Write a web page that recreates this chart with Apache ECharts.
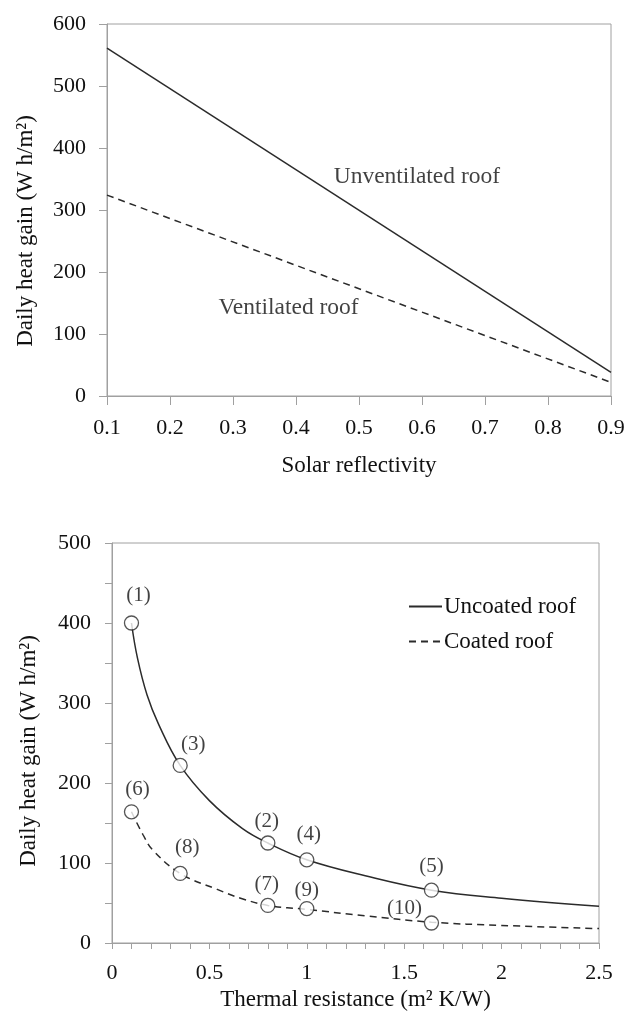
<!DOCTYPE html>
<html>
<head>
  <meta charset="UTF-8">
  <title>Daily heat gain</title>
  <script src="https://cdn.jsdelivr.net/npm/echarts@6/dist/echarts.min.js"></script>
  <style>
    html, body { margin: 0; padding: 0; background: #fff; }
    #main { width: 628px; height: 1012px; }
  </style>
</head>
<body>
  <div id="main"></div>
  <script>
    // top chart: heat gain vs solar reflectivity
    const reflectivity = [0.1, 0.9];
    const unventilated = [561, 38];
    const ventilated = [324, 22];
    const topNotes = [
      { text: 'Unventilated roof', x: 0.459, y: 353 },
      { text: 'Ventilated roof', x: 0.276, y: 143 }
    ];

    // bottom chart: heat gain vs thermal resistance (curves)
    const uncoatedCurveX = [0.1, 0.13, 0.18, 0.24, 0.35, 0.5, 0.67, 0.8, 1.0, 1.3, 1.64, 2.0, 2.5];
    const uncoatedCurveY = [400, 357, 310, 273, 222, 178, 143, 125, 104, 84, 66, 56, 46];
    const coatedCurveX = [0.1, 0.16, 0.21, 0.35, 0.54, 0.66, 0.8, 1.0, 1.3, 1.64, 2.0, 2.5];
    const coatedCurveY = [164, 135, 116, 87, 67, 56, 47, 42, 34, 26, 22, 18];

    // measured cases
    const uncoatedX = [0.1, 0.35, 0.8, 1.0, 1.64];
    const uncoatedY = [400, 222, 125, 104, 66];
    const uncoatedTags = ['(1)', '(3)', '(2)', '(4)', '(5)'];
    const coatedX = [0.1, 0.35, 0.8, 1.0, 1.64];
    const coatedY = [164, 87, 47, 43, 25];
    const coatedTags = ['(6)', '(8)', '(7)', '(9)', '(10)'];

    // where each case tag sits relative to its circle (px)
    const tagOffset = {
      '(1)': [7, -28], '(3)': [13, -21], '(2)': [-1, -22], '(4)': [2, -25], '(5)': [0, -24],
      '(6)': [6, -22], '(8)': [7, -26], '(7)': [-1, -21], '(9)': [0, -18], '(10)': [-27, -15]
    };

    const zip = (xs, ys) => xs.map((x, i) => [x, ys[i]]);

    const FONT = 'Liberation Serif';
    const INK = '#111';
    const AXIS = '#a0a0a0';
    const LINE = '#2b2b2b';

    const axisCommon = {
      axisLine: { show: true, lineStyle: { color: AXIS, width: 1 } },
      splitLine: { show: false },
      nameLocation: 'middle'
    };

    const chart = echarts.init(document.getElementById('main'));

    chart.setOption({
      animation: false,
      backgroundColor: '#fff',
      grid: [
        { left: 107, top: 24, width: 504, height: 372, show: true, borderColor: AXIS, borderWidth: 1 },
        { left: 112, top: 543, width: 487, height: 400, show: true, borderColor: AXIS, borderWidth: 1 }
      ],
      xAxis: [
        Object.assign({}, axisCommon, {
          gridIndex: 0, type: 'value', min: 0.1, max: 0.9, interval: 0.1,
          name: 'Solar reflectivity', nameGap: 58,
          nameTextStyle: { fontFamily: FONT, fontSize: 23, color: INK },
          axisTick: { show: true, length: 9, lineStyle: { color: AXIS } },
          axisLabel: { margin: 21, fontFamily: FONT, fontSize: 22, color: INK, formatter: v => v.toFixed(1) }
        }),
        Object.assign({}, axisCommon, {
          gridIndex: 1, type: 'value', min: 0, max: 2.5, interval: 0.5,
          name: 'Thermal resistance (m² K/W)', nameGap: 45,
          nameTextStyle: { fontFamily: FONT, fontSize: 23, color: INK },
          axisTick: { show: true, length: 6, lineStyle: { color: AXIS } },
          minorTick: { show: true, splitNumber: 5, length: 6, lineStyle: { color: AXIS } },
          axisLabel: { margin: 19, fontFamily: FONT, fontSize: 22, color: INK }
        })
      ],
      yAxis: [
        Object.assign({}, axisCommon, {
          gridIndex: 0, type: 'value', min: 0, max: 600, interval: 100,
          name: 'Daily heat gain (W h/m²)', nameGap: 70,
          nameTextStyle: { fontFamily: FONT, fontSize: 23, color: INK, padding: [0, 42, 0, 0] },
          axisTick: { show: true, length: 8, lineStyle: { color: AXIS } },
          axisLabel: { margin: 21, fontFamily: FONT, fontSize: 22, color: INK }
        }),
        Object.assign({}, axisCommon, {
          gridIndex: 1, type: 'value', min: 0, max: 500, interval: 100,
          name: 'Daily heat gain (W h/m²)', nameGap: 72,
          nameTextStyle: { fontFamily: FONT, fontSize: 23, color: INK, padding: [0, 16, 0, 0] },
          axisTick: { show: true, length: 7, lineStyle: { color: AXIS } },
          minorTick: { show: true, splitNumber: 2, length: 7, lineStyle: { color: AXIS } },
          axisLabel: { margin: 21, fontFamily: FONT, fontSize: 22, color: INK }
        })
      ],
      legend: {
        data: ['Uncoated roof', 'Coated roof'],
        orient: 'vertical',
        left: 403,
        top: 590,
        itemWidth: 33,
        itemHeight: 14,
        itemGap: 12,
        itemStyle: { opacity: 0 },
        textStyle: { fontFamily: FONT, fontSize: 23, color: INK, padding: [0, 0, 0, -3] }
      },
      series: [
        {
          name: 'Unventilated roof', type: 'line', xAxisIndex: 0, yAxisIndex: 0,
          data: zip(reflectivity, unventilated), symbol: 'none',
          itemStyle: { color: LINE },
          lineStyle: { color: LINE, width: 1.5 }
        },
        {
          name: 'Ventilated roof', type: 'line', xAxisIndex: 0, yAxisIndex: 0,
          data: zip(reflectivity, ventilated), symbol: 'none',
          itemStyle: { color: LINE },
          lineStyle: { color: LINE, width: 1.5, type: [7, 5] }
        },
        {
          name: 'notes', type: 'scatter', xAxisIndex: 0, yAxisIndex: 0,
          symbolSize: 1, itemStyle: { color: 'rgba(0,0,0,0)' },
          data: topNotes.map(n => ({ value: [n.x, n.y], name: n.text })),
          label: {
            show: true, position: 'right', distance: 0, formatter: p => p.name,
            fontFamily: FONT, fontSize: 23.5, color: INK
          }
        },
        {
          name: 'Uncoated roof', type: 'line', xAxisIndex: 1, yAxisIndex: 1,
          data: zip(uncoatedCurveX, uncoatedCurveY), symbol: 'none',
          smooth: 0.4,
          itemStyle: { color: LINE },
          lineStyle: { color: LINE, width: 1.5 }
        },
        {
          name: 'Coated roof', type: 'line', xAxisIndex: 1, yAxisIndex: 1,
          data: zip(coatedCurveX, coatedCurveY), symbol: 'none',
          smooth: 0.4,
          itemStyle: { color: LINE },
          lineStyle: { color: LINE, width: 1.5, type: [7, 5] }
        },
        ...[[uncoatedX, uncoatedY, uncoatedTags], [coatedX, coatedY, coatedTags]].map(([xs, ys, tags], k) => ({
          name: k === 0 ? 'uncoated cases' : 'coated cases',
          type: 'scatter', xAxisIndex: 1, yAxisIndex: 1, z: 5,
          symbol: 'circle', symbolSize: 14,
          itemStyle: { color: '#fff', borderColor: LINE, borderWidth: 1.3 },
          data: xs.map((x, i) => ({
            value: [x, ys[i]], name: tags[i],
            label: { offset: tagOffset[tags[i]] }
          })),
          label: {
            show: true, position: 'inside', formatter: p => p.name,
            fontFamily: FONT, fontSize: 21, color: INK
          }
        }))
      ]
    });
  </script>
</body>
</html>
